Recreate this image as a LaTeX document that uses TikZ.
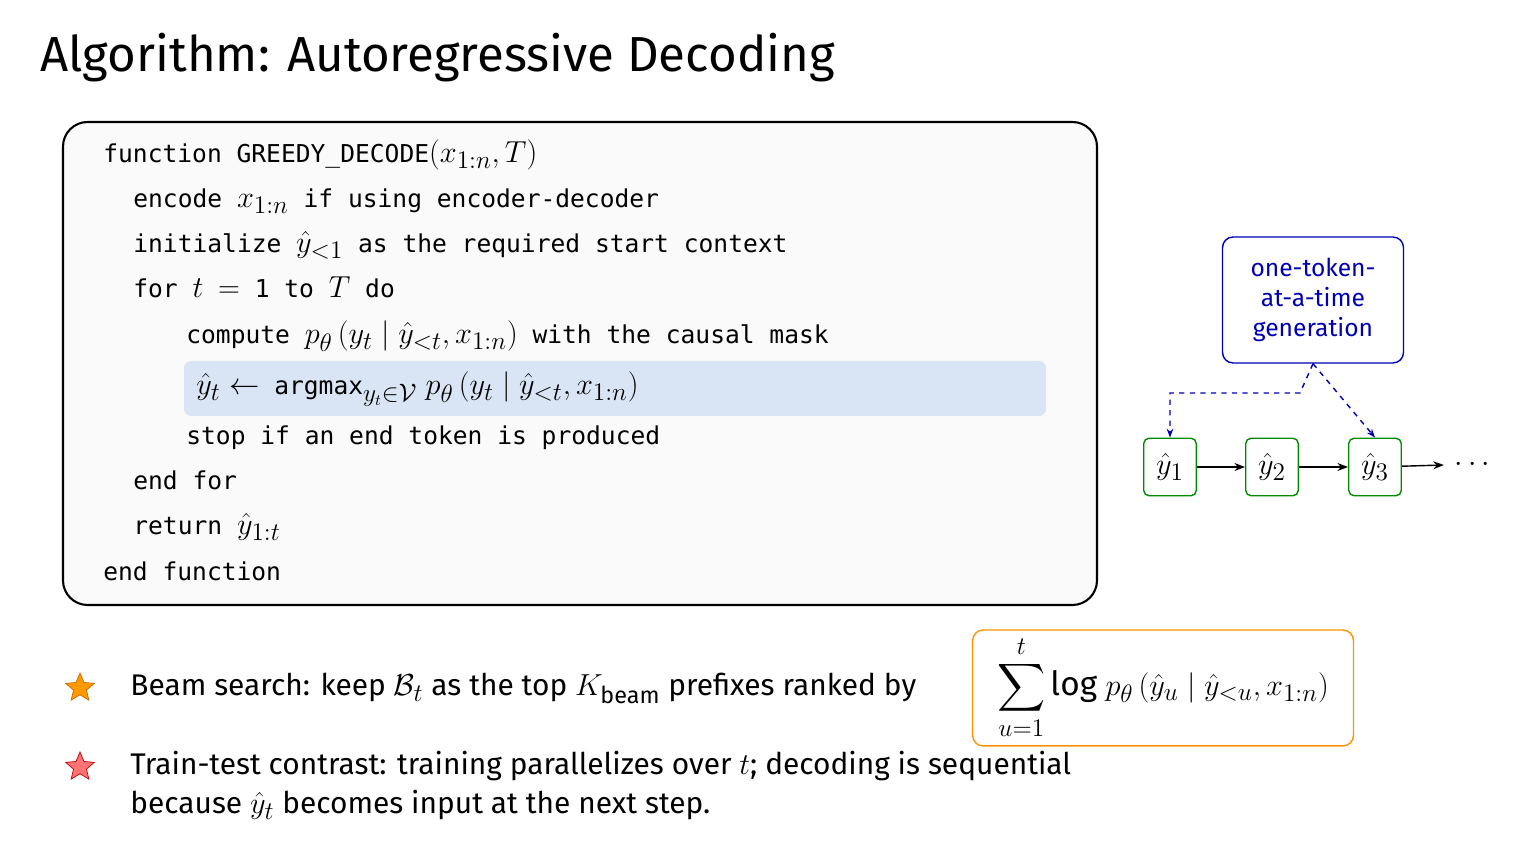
\documentclass[tikz,border=0pt]{standalone}
\usepackage{amsmath,amssymb}
\usepackage{fontspec}
\setmainfont{Fira Sans}
\setmonofont{DejaVu Sans Mono}
\usetikzlibrary{shapes.geometric,arrows.meta}
\definecolor{hlblue}{RGB}{217,229,245}
\newcommand\mm[1]{{\fontsize{19}{21}\selectfont$#1$}}
\tikzset{
  codeline/.style={anchor=base west,inner sep=0pt,font=\ttfamily\fontsize{14}{16}\selectfont},
  tokbox/.style={draw=green!55!black,thick,rounded corners=3pt,minimum width=1.05cm,minimum height=1.15cm,font=\fontsize{19}{21}\selectfont},
  bullettext/.style={anchor=base west,inner sep=0pt,font=\fontsize{17}{19}\selectfont},
  flow/.style={dashed,thick,draw=blue!70!black,-{Stealth[length=5pt]}}
}
\begin{document}
\begin{tikzpicture}[x=0.02cm,y=-0.02cm]
\useasboundingbox (0,0) rectangle (1536,864);

% title
\node[anchor=base west,inner sep=0pt,font=\fontsize{28}{32}\selectfont] (title) at (40,72) {Algorithm: Autoregressive Decoding};

% algorithm box and highlighted step
\draw[very thick,rounded corners=14pt,fill=gray!4] (63,122) rectangle (1097,605);
\fill[hlblue,rounded corners=4pt] (184,361) rectangle (1046,416);

\node[codeline] (l1) at (103,163) {function GREEDY\_DECODE\mm{(x_{1:n},T)}};
\node[codeline] (l2) at (133,208) {encode \mm{x_{1:n}} if using encoder-decoder};
\node[codeline] (l3) at (133,253) {initialize \mm{\hat{y}_{<1}} as the required start context};
\node[codeline] (l4) at (133,298) {for \mm{t} \mm{=} 1 to \mm{T} do};
\node[codeline] (l5) at (186,344) {compute \mm{p_\theta\,(y_t \mid \hat{y}_{<t},x_{1:n})} with the causal mask};
\node[codeline] (l6) at (196,395) {\mm{\hat{y}_t\leftarrow} argmax\mm{_{y_t\in\mathcal{V}}\; p_\theta\,(y_t \mid \hat{y}_{<t},x_{1:n})}};
\node[codeline] (l7) at (186,445) {stop if an end token is produced};
\node[codeline] (l8) at (133,490) {end for};
\node[codeline] (l9) at (133,535) {return \mm{\hat{y}_{1:t}}};
\node[codeline] (l10) at (103,581) {end function};

% one-token-at-a-time side diagram
\node[draw=blue!70!black,thick,rounded corners=6pt,text=blue!70!black,align=center,
  minimum width=3.62cm,minimum height=2.52cm,font=\fontsize{14}{17}\selectfont] (note) at (1313,300) {one-token-\\at-a-time\\generation};
\node[tokbox] (y1) at (1170,467) {$\hat{y}_1$};
\node[tokbox] (y2) at (1272,467) {$\hat{y}_2$};
\node[tokbox] (y3) at (1375,467) {$\hat{y}_3$};
\node[font=\fontsize{19}{21}\selectfont,inner sep=0pt] (more) at (1475,465) {$\cdots$};
\draw[-{Stealth[length=6pt]},thick] (y1) -- (y2);
\draw[-{Stealth[length=6pt]},thick] (y2) -- (y3);
\draw[-{Stealth[length=6pt]},thick] (y3) -- ([xshift=-6pt]more.west);
\coordinate (split) at (1300,393);
\draw[flow] (note.south) -- (split) -- (1170,393) -- (y1.north);
\draw[flow] (note.south) -- (y3.north);

% notes below
\node[star,star points=5,star point ratio=2.2,fill=orange!80!yellow,draw=orange!80!black,minimum size=0.6cm,inner sep=0pt] (s1) at (80,688) {};
\node[bullettext] (b1) at (130,696) {Beam search: keep \mm{\mathcal{B}_t} as the top \mm{K_{\text{beam}}} prefixes ranked by};
\node[draw=orange!85!yellow,thick,rounded corners=6pt,minimum width=7.62cm,minimum height=2.02cm,font=\fontsize{19}{21}\selectfont] (sum) at (1163,688)
  {$\displaystyle\sum_{u=1}^{t}\mathrm{log}\;p_\theta\,(\hat{y}_u \mid \hat{y}_{<u},x_{1:n})$};
\node[star,star points=5,star point ratio=2.2,fill=red!55,draw=red!75!black,minimum size=0.6cm,inner sep=0pt] (s2) at (80,767) {};
\node[bullettext] (b2) at (130,775) {Train-test contrast: training parallelizes over \mm{t}; decoding is sequential};
\node[bullettext] (b3) at (130,814) {because \mm{\hat{y}_t} becomes input at the next step.};
\end{tikzpicture}
\end{document}
